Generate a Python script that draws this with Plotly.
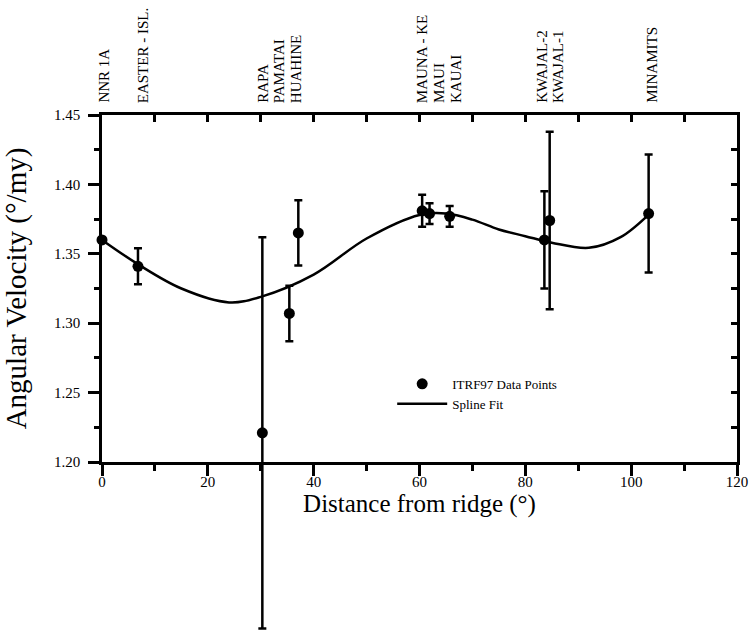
import plotly.graph_objects as go

# ---- data ----
stations = ["NNR 1A", "EASTER - ISL.", "RAPA", "PAMATAI", "HUAHINE",
            "MAUNA - KE", "MAUI", "KAUAI", "KWAJAL-2", "KWAJAL-1", "MINAMITS"]
dist = [0.0, 6.8, 30.3, 35.4, 37.1, 60.5, 61.9, 65.7, 83.6, 84.6, 103.3]
velocity = [1.360, 1.341, 1.221, 1.307, 1.365, 1.381, 1.379, 1.377, 1.360, 1.374, 1.379]
err = [0.0, 0.013, 0.141, 0.020, 0.0235, 0.0115, 0.0075, 0.0075, 0.035, 0.064, 0.0425]

# station label positions along the top (spread for legibility)
label_x = [0.3, 7.7, 30.3, 33.5, 36.7, 60.5, 63.7, 66.9, 83.0, 86.1, 103.9]

# spline fit
spline_x = [0, 7, 15, 24, 30, 40, 50, 60, 65, 70, 75, 80, 85, 92, 98, 103.5]
spline_y = [1.360, 1.342, 1.325, 1.315, 1.319, 1.335, 1.361, 1.378, 1.379,
            1.3746, 1.3675, 1.3627, 1.358, 1.3543, 1.362, 1.379]

FONT = "Liberation Serif"

# ---- layout geometry ----
W, H = 751, 633
M_L, M_R, M_T, M_B = 102, 14, 115, 0
AXIS_BOTTOM = 462               # pixel row of the x axis
Y_RANGE = [1.20, 1.45]
d0 = (H - M_B - AXIS_BOTTOM) / (H - M_B - M_T)
# an invisible full-height axis on the same scale, so long error bars are not clipped
y3_low = Y_RANGE[1] - (Y_RANGE[1] - Y_RANGE[0]) / (1 - d0)

fig = go.Figure()
fig.add_trace(go.Scatter(
    x=spline_x, y=spline_y, mode="lines", name="Spline Fit",
    line=dict(color="black", width=2.5, shape="spline", smoothing=1.0),
    legendrank=2,
))
fig.add_trace(go.Scatter(
    x=dist, y=velocity, mode="markers", name="ITRF97 Data Points",
    xaxis="x", yaxis="y3",
    marker=dict(color="black", size=11),
    error_y=dict(type="data", array=err, visible=True, color="black",
                 thickness=2.5, width=4),
    cliponaxis=False, legendrank=1,
))
# empty trace to anchor mirrored axes
fig.add_trace(go.Scatter(x=[], y=[], xaxis="x2", yaxis="y2", showlegend=False))

for sx, name in zip(label_x, stations):
    fig.add_annotation(x=sx, y=1, xref="x", yref="y domain", text=name,
                       textangle=-90, showarrow=False, xanchor="center",
                       yanchor="bottom", yshift=11, borderpad=0,
                       font=dict(family=FONT, size=15, color="black"))

axis_common = dict(showline=True, linecolor="black", linewidth=2.5,
                   showgrid=False, zeroline=False, tickcolor="black",
                   tickwidth=2.5, automargin=False)

fig.update_layout(
    width=W, height=H,
    margin=dict(l=M_L, r=M_R, t=M_T, b=M_B, autoexpand=False),
    paper_bgcolor="white", plot_bgcolor="rgba(0,0,0,0)",
    font=dict(family=FONT, color="black"),
    xaxis=dict(range=[0, 120], dtick=20, ticks="outside", ticklen=11,
               minor=dict(dtick=10, ticks="outside", ticklen=6,
                          tickcolor="black", tickwidth=2.5),
               tickfont=dict(family=FONT, size=15), ticklabelstandoff=-7,
               anchor="y",
               title=dict(text="Distance from ridge (°)",
                          font=dict(family=FONT, size=25), standoff=0),
               **axis_common),
    yaxis=dict(domain=[d0, 1], range=Y_RANGE, dtick=0.05, tickformat=".2f",
               ticks="outside", ticklen=11,
               minor=dict(dtick=0.025, ticks="outside", ticklen=5,
                          tickcolor="black", tickwidth=2.5),
               tickfont=dict(family=FONT, size=15), ticklabelstandoff=5,
               title=dict(text="Angular Velocity (°/my)",
                          font=dict(family=FONT, size=29), standoff=34),
               **axis_common),
    yaxis3=dict(domain=[0, 1], range=[y3_low, Y_RANGE[1]], visible=False,
                anchor="x", showgrid=False, zeroline=False, automargin=False),
    xaxis2=dict(overlaying="x", side="top", range=[0, 120], dtick=10,
                ticks="inside", ticklen=7, showticklabels=False, **axis_common),
    yaxis2=dict(overlaying="y", side="right", range=Y_RANGE, dtick=0.025,
                ticks="inside", ticklen=6, showticklabels=False, **axis_common),
    legend=dict(x=0.457, y=0.510, xanchor="left", yanchor="top",
                bgcolor="rgba(0,0,0,0)", itemwidth=50,
                font=dict(family=FONT, size=13)),
)

fig.write_html(
    "out.html",
    config={"displayModeBar": False},
    post_script="document.body.style.margin='0';"
                "document.documentElement.style.overflow='hidden';",
)
